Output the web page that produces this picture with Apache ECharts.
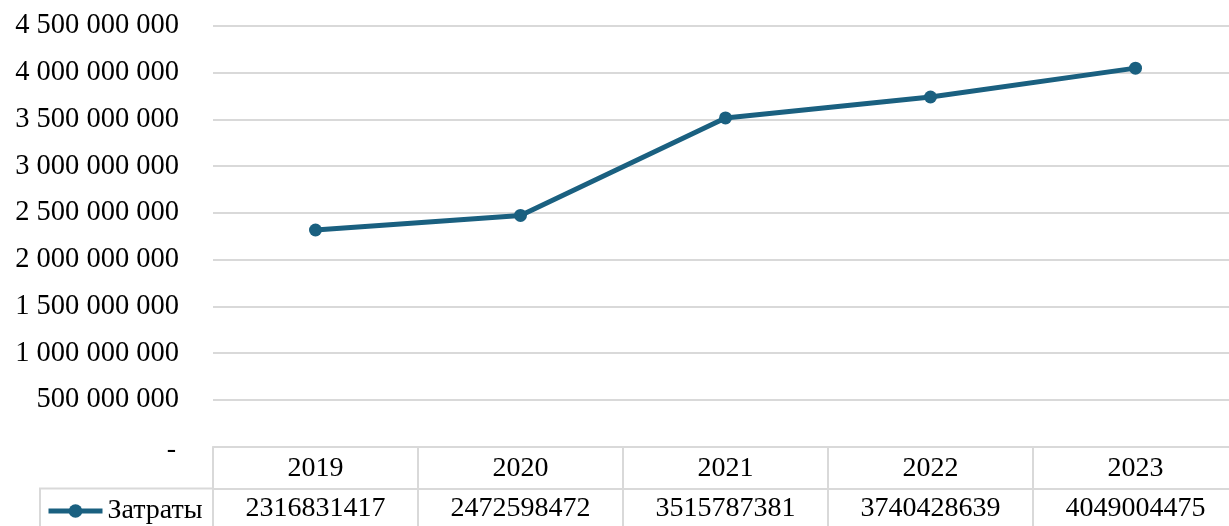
<!DOCTYPE html>
<html>
<head>
<meta charset="utf-8">
<script src="https://cdn.jsdelivr.net/npm/echarts@6/dist/echarts.min.js"></script>
<style>
html,body{margin:0;padding:0;background:#fff;overflow:hidden;}
#chart{width:1238px;height:526px;}
</style>
</head>
<body>
<div id="chart"></div>
<script>
const categories = ['2019', '2020', '2021', '2022', '2023'];
const seriesName = 'Затраты';
const costs = [2316831417, 2472598472, 3515787381, 3740428639, 4049004475];
const yMax = 4500000000;
const yStep = 500000000;

const FONT = "'Liberation Serif', 'Times New Roman', serif";
const LINE_COLOR = '#1a6080';
const GRID_COLOR = '#d9d9d9';

function fmtY(v) {
  if (v === 0) return '{d|-}';
  return String(v).replace(/\B(?=(\d{3})+(?!\d))/g, ' ');
}

const chart = echarts.init(document.getElementById('chart'), null, {renderer: 'canvas'});
chart.setOption({
  animation: false,
  backgroundColor: '#fff',
  textStyle: {fontFamily: FONT, color: '#000'},
  grid: {left: 213, right: 0, top: 26, bottom: 79.5, containLabel: false},
  legend: {
    data: [seriesName],
    left: 46, top: 497, padding: 0,
    itemWidth: 54, itemHeight: 17, itemGap: 5,
    lineStyle: {width: 5},
    textStyle: {fontFamily: FONT, fontSize: 28, color: '#000', padding: [0,0,0,0]}
  },
  xAxis: [{
    type: 'category',
    data: categories,
    boundaryGap: true,
    position: 'bottom',
    axisLine: {show: true, lineStyle: {color: GRID_COLOR, width: 2}},
    axisTick: {show: true, length: 90, lineStyle: {color: GRID_COLOR, width: 2}},
    axisLabel: {fontFamily: FONT, fontSize: 28, color: '#000', margin: 22, verticalAlign: 'middle', lineHeight: 28},
    splitLine: {show: false}
  }, {
    type: 'category',
    data: costs.map(v => String(v)),
    boundaryGap: true,
    position: 'bottom',
    offset: 42,
    axisLine: {show: true, lineStyle: {color: GRID_COLOR, width: 2}},
    axisTick: {show: false},
    axisLabel: {fontFamily: FONT, fontSize: 28, color: '#000', margin: 20, verticalAlign: 'middle', lineHeight: 28},
    splitLine: {show: false}
  }],
  yAxis: {
    type: 'value',
    min: 0, max: yMax, interval: yStep,
    axisLine: {show: false},
    axisTick: {show: false},
    axisLabel: {
      fontFamily: FONT, fontSize: 28.5, color: '#000', margin: 34,
      formatter: fmtY,
      rich: {d: {fontFamily: FONT, fontSize: 28, color: '#000', padding: [6, 3, 0, 0]}}
    },
    splitLine: {show: true, lineStyle: {color: GRID_COLOR, width: 2}}
  },
  series: [{
    name: seriesName,
    type: 'line',
    data: costs,
    xAxisIndex: 0,
    symbol: 'circle',
    symbolSize: 13,
    lineStyle: {color: LINE_COLOR, width: 5},
    itemStyle: {color: LINE_COLOR},
    z: 5
  }],
  graphic: [{
    type: 'rect',
    shape: {x: 40, y: 488.5, width: 173, height: 60},
    style: {fill: 'none', stroke: GRID_COLOR, lineWidth: 2},
    silent: true
  }]
});
</script>
</body>
</html>
